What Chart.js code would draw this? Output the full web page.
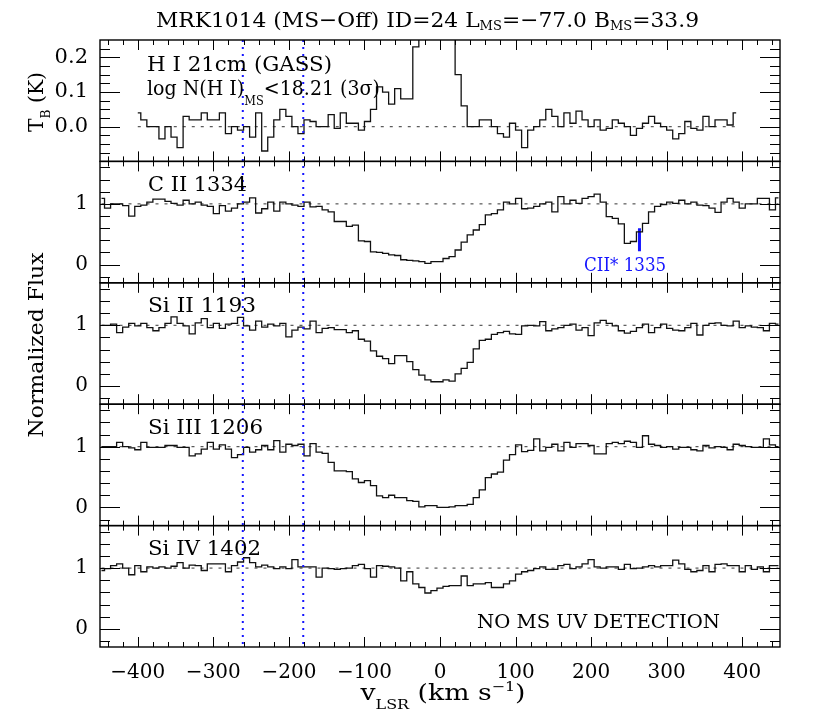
<!DOCTYPE html>
<html><head><meta charset="utf-8">
<script src="https://cdn.jsdelivr.net/npm/chart.js@4.4.1/dist/chart.umd.min.js"></script>
<style>html,body{margin:0;padding:0;background:#fff}#wrap{position:relative;width:830px;height:727px}</style>
</head><body><div id="wrap"><canvas id="c"></canvas></div>
<script>
// ---------------- data ----------------
const velHI = [-400,-392,-384,-376,-368,-360,-352,-344,-336,-328,-320,-312,-304,-296,-288,-280,-272,-264,-256,-248,-240,-232,-224,-216,-208,-200,-192,-184,-176,-168,-160,-152,-144,-136,-128,-120,-112,-104,-96,-88,-80,-72,-64,-56,-48,-40,-32,-24,-16,-8,0,8,16,24,32,40,48,56,64,72,80,88,96,104,112,120,128,136,144,152,160,168,176,184,192,200,208,216,224,232,240,248,256,264,272,280,288,296,304,312,320,328,336,344,352,360,368,376,384,392];
const tbHI = [
 0.04, 0.02, 0.0, 0.0, -0.035, 0.0, -0.03, -0.06,
 0.03, 0.02, 0.02, 0.04, 0.02, 0.02, 0.04, -0.02,
 0.0, -0.01, 0.0, -0.03, 0.04, -0.07, -0.03, 0.02,
 0.05, 0.03, 0.0, -0.02, 0.02, 0.015, 0.0, 0.0,
 0.035, -0.005, 0.04, 0.01, 0.01, -0.01, 0.015, 0.05,
 0.115, 0.1, 0.065, 0.11, 0.08, 0.08, 0.23, 0.7,
 1.3, 1.8, 1.9, 1.5, 0.8, 0.15, 0.06, 0.0,
 0.0, 0.02, 0.02, 0.0, -0.02, -0.03, 0.01, -0.01,
 -0.06, -0.01, 0.0, 0.02, 0.05, 0.03, 0.0, 0.04,
 0.01, 0.045, 0.02, 0.0, 0.02, -0.01, -0.005, 0.02,
 0.01, 0.0, -0.025, -0.005, 0.01, 0.03, 0.01, 0.0,
 -0.01, -0.035, -0.02, 0.015, -0.005, -0.01, 0.03, 0.0,
 0.02, 0.02, 0.005, 0.04];

const velUV = [-448,-440,-432,-424,-416,-408,-400,-392,-384,-376,-368,-360,-352,-344,-336,-328,-320,-312,-304,-296,-288,-280,-272,-264,-256,-248,-240,-232,-224,-216,-208,-200,-192,-184,-176,-168,-160,-152,-144,-136,-128,-120,-112,-104,-96,-88,-80,-72,-64,-56,-48,-40,-32,-24,-16,-8,0,8,16,24,32,40,48,56,64,72,80,88,96,104,112,120,128,136,144,152,160,168,176,184,192,200,208,216,224,232,240,248,256,264,272,280,288,296,304,312,320,328,336,344,352,360,368,376,384,392,400,408,416,424,432,440,448];
const fluxCII = [
 1.09, 0.93, 1.0, 1.0, 0.97, 0.8, 0.96, 0.98,
 1.03, 1.08, 1.08, 1.04, 1.01, 0.98, 1.06, 1.0,
 1.03, 0.98, 0.96, 0.84, 0.97, 0.88, 0.93, 1.0,
 1.03, 1.1, 0.85, 0.92, 1.03, 0.88, 1.03, 1.0,
 0.98, 0.96, 1.03, 0.95, 0.96, 0.9, 0.87, 0.71,
 0.71, 0.63, 0.65, 0.39, 0.38, 0.21, 0.2, 0.185,
 0.16, 0.15, 0.08, 0.07, 0.06, 0.05, 0.02, 0.05,
 0.05, 0.1, 0.13, 0.24, 0.37, 0.49, 0.57, 0.66,
 0.82, 0.84, 0.9, 1.03, 1.0, 1.09, 0.92, 0.93,
 0.96, 1.0, 1.03, 0.87, 1.12, 1.0, 1.06, 1.01,
 1.09, 1.12, 1.16, 1.03, 0.79, 0.76, 0.67, 0.35,
 0.38, 0.54, 0.68, 0.87, 0.96, 0.99, 1.03, 1.01,
 1.06, 1.0, 1.03, 0.98, 0.97, 0.93, 0.86, 1.03,
 1.09, 1.03, 0.93, 1.0, 1.0, 1.09, 1.09, 0.9,
 1.1];
const fluxSiII = [
 1.0, 1.0, 1.02, 0.88, 0.97, 1.03, 0.99, 1.03,
 0.96, 0.91, 0.96, 1.03, 1.14, 1.03, 0.99, 0.86,
 1.04, 1.11, 0.96, 1.03, 0.95, 1.02, 1.03, 1.13,
 0.99, 0.92, 1.07, 0.97, 1.02, 0.99, 1.03, 0.81,
 0.92, 0.97, 0.94, 1.07, 0.88, 0.95, 0.96, 0.93,
 0.93, 0.88, 0.91, 0.77, 0.74, 0.58, 0.49, 0.45,
 0.37, 0.5, 0.5, 0.4, 0.27, 0.18, 0.1, 0.07,
 0.07, 0.1, 0.08, 0.2, 0.29, 0.39, 0.61, 0.75,
 0.77, 0.85, 0.88, 0.9, 0.86, 0.85, 0.99, 1.0,
 0.99, 1.06, 0.91, 0.94, 0.96, 1.0, 1.02, 0.92,
 0.96, 0.83, 1.04, 1.08, 1.03, 0.99, 0.91, 0.87,
 0.9, 0.96, 1.02, 0.88, 0.96, 1.02, 0.95, 0.92,
 0.91, 0.96, 1.03, 0.84, 1.0, 1.03, 1.04, 1.0,
 0.99, 1.07, 0.96, 0.99, 0.97, 0.96, 0.91, 1.03,
 1.02];
const fluxSiIII = [
 1.0, 1.0, 1.0, 1.07, 1.0, 0.98, 0.95, 1.07,
 0.99, 0.99, 0.99, 1.02, 1.02, 0.99, 0.99, 0.85,
 0.88, 0.96, 1.07, 0.96, 1.03, 0.96, 0.82, 0.87,
 0.99, 0.91, 0.95, 1.02, 0.95, 1.1, 0.91, 1.04,
 1.02, 1.04, 0.85, 1.05, 0.91, 0.89, 0.74, 0.6,
 0.6, 0.59, 0.47, 0.41, 0.44, 0.36, 0.19, 0.16,
 0.2, 0.16, 0.16, 0.11, 0.1, 0.01, 0.03, 0.03,
 0.0, 0.0, 0.01, 0.03, 0.03, 0.05, 0.16, 0.29,
 0.49, 0.55, 0.58, 0.78, 0.87, 1.03, 0.92, 0.94,
 1.13, 0.93, 0.99, 1.04, 0.93, 1.07, 0.99, 1.05,
 1.05, 1.02, 0.88, 0.88, 1.05, 1.07, 1.05, 1.09,
 1.07, 0.99, 1.18, 1.04, 1.02, 0.99, 1.0, 0.96,
 0.99, 0.99, 0.95, 0.93, 1.02, 0.98, 1.0, 0.99,
 0.95, 1.04, 1.02, 1.0, 0.99, 0.99, 1.13, 1.03,
 1.0];
const fluxSiIV = [
 0.96, 0.99, 1.04, 1.07, 1.0, 0.89, 1.04, 0.94,
 1.02, 1.0, 1.02, 1.0, 1.03, 1.09, 1.0, 1.05,
 1.04, 0.96, 1.07, 1.07, 1.07, 0.94, 1.04, 1.1,
 1.17, 1.09, 1.02, 1.05, 1.02, 0.99, 1.02, 0.99,
 1.14, 1.02, 1.02, 1.02, 0.85, 1.0, 0.99, 0.98,
 0.99, 1.0, 1.04, 1.06, 0.99, 0.85, 1.04, 1.03,
 1.02, 1.0, 0.79, 0.94, 0.74, 0.68, 0.59, 0.63,
 0.67, 0.7, 0.71, 0.71, 0.87, 0.71, 0.74, 0.74,
 0.76, 0.68, 0.68, 0.74, 0.79, 0.9, 0.94, 0.96,
 0.99, 1.02, 0.98, 0.98, 1.04, 1.06, 0.99, 1.02,
 1.07, 1.14, 1.02, 1.0, 1.02, 1.02, 0.98, 1.06,
 0.99, 1.0, 1.02, 1.04, 1.02, 1.04, 1.04, 1.13,
 1.07, 0.98, 0.94, 0.96, 1.04, 0.94, 1.06, 1.07,
 1.04, 1.04, 0.94, 1.04, 0.98, 1.02, 0.94, 1.04,
 1.04];

const xTickValues = [-400, -300, -200, -100, 0, 100, 200, 300, 400];
const hiTickValues = [0, 0.1, 0.2];
const fluxTickValues = [0, 1];
const msVelocities = [-261, -181];
const ciiStarVel = [264, 264];
const ciiStarFlux = [0.22, 0.6];
const panelLabels = ['C II 1334', 'Si II 1193', 'Si III 1206', 'Si IV 1402'];

// ---------------- helpers ----------------
const FAM = '"DejaVu Serif"';
const pts = (xs, ys) => xs.map((v, i) => ({x: v, y: ys[i]}));
const fmtX = v => (v < 0 ? '\u2212' + Math.abs(v) : String(v));

function drawRich(ctx, parts, x, y, size, o = {}) {
  const items = parts.map(p => {
    const fs = p[1] ? size * 0.6 : size;
    ctx.font = fs + 'px ' + FAM;
    return {t: p[0], k: p[1], dy: p[2] || 0, fs, w: ctx.measureText(p[0]).width};
  });
  const nat = items.reduce((s, it) => s + it.w, 0);
  const sx = o.width ? o.width / nat : 1;
  ctx.save();
  ctx.translate(x, y);
  if (o.rotate) ctx.rotate(o.rotate);
  ctx.scale(sx, 1);
  let cx = o.align === 'center' ? -nat / 2 : 0;
  ctx.fillStyle = o.color || '#000';
  ctx.textBaseline = 'alphabetic';
  ctx.textAlign = 'left';
  for (const it of items) {
    ctx.font = it.fs + 'px ' + FAM;
    ctx.fillText(it.t, cx, it.dy);
    cx += it.w;
  }
  ctx.restore();
}

function line(ctx, x1, y1, x2, y2) {
  ctx.beginPath(); ctx.moveTo(x1, y1); ctx.lineTo(x2, y2); ctx.stroke();
}

const panelIds = ['yHI', 'yCII', 'ySiII', 'ySiIII', 'ySiIV'];

const framePlugin = {
  id: 'framePlugin',
  beforeDatasetDraw(chart, args) {
    const ys = args.meta.yScale, ca = chart.chartArea, ctx = chart.ctx;
    ctx.save();
    ctx.beginPath();
    ctx.rect(ca.left, ys.top, ca.right - ca.left, ys.bottom - ys.top);
    ctx.clip();
  },
  afterDatasetDraw(chart) { chart.ctx.restore(); },
  beforeDatasetsDraw(chart) {
    const ctx = chart.ctx, xs = chart.scales.x;
    ctx.save();
    ctx.strokeStyle = '#333';
    ctx.lineWidth = 1;
    ctx.setLineDash([3, 6]);
    const yh = chart.scales.yHI.getPixelForValue(0);
    line(ctx, xs.getPixelForValue(velHI[0]), yh, xs.getPixelForValue(velHI[velHI.length - 1]), yh);
    panelIds.slice(1).forEach(id => {
      const y = chart.scales[id].getPixelForValue(1);
      line(ctx, xs.getPixelForValue(velUV[0]), y, xs.getPixelForValue(velUV[velUV.length - 1]), y);
    });
    ctx.restore();
  },
  afterDatasetsDraw(chart) {
    const ctx = chart.ctx, ca = chart.chartArea, xs = chart.scales.x;
    ctx.save();
    // MS velocity range markers
    ctx.strokeStyle = '#1515ff';
    ctx.lineWidth = 2;
    ctx.setLineDash([2, 5]);
    msVelocities.forEach(v => {
      const px = xs.getPixelForValue(v);
      line(ctx, px, ca.top, px, ca.bottom);
    });
    ctx.setLineDash([]);
    // frames and ticks
    panelIds.forEach((id, i) => {
      const ys = chart.scales[id];
      ctx.strokeStyle = '#000';
      ctx.lineWidth = 1.4;
      ctx.strokeRect(ca.left, ys.top, ca.right - ca.left, ys.bottom - ys.top);
      ctx.lineWidth = 1;
      for (let v = -440; v <= 440; v += 20) {
        const px = Math.round(xs.getPixelForValue(v)) + 0.5;
        const L = v % 100 === 0 ? 10 : 5;
        line(ctx, px, ys.top, px, ys.top + L);
        line(ctx, px, ys.bottom, px, ys.bottom - L);
      }
      const step = i === 0 ? 0.025 : 0.2;
      const majors = i === 0 ? hiTickValues : fluxTickValues;
      const k0 = Math.ceil(ys.min / step - 1e-6), k1 = Math.floor(ys.max / step + 1e-6);
      for (let k = k0; k <= k1; k++) {
        const v = k * step;
        if (Math.abs(v - ys.min) < 1e-6 || Math.abs(v - ys.max) < 1e-6) continue;
        const py = Math.round(ys.getPixelForValue(v)) + 0.5;
        const L = majors.some(m => Math.abs(m - v) < 1e-6) ? 20 : 10;
        line(ctx, ca.left, py, ca.left + L, py);
        line(ctx, ca.right, py, ca.right - L, py);
      }
    });
    // texts
    const yHI = chart.scales.yHI;
    drawRich(ctx, [['MRK1014 (MS\u2212Off) ID=24 L', 0], ['MS', 1, 3], ['=\u221277.0 B', 0], ['MS', 1, 3], ['=33.9', 0]], 156, 27, 21, {width: 543});
    drawRich(ctx, [['H I 21cm (GASS)', 0]], 147, yHI.top + 31, 21, {width: 185});
    drawRich(ctx, [['log N(H I)', 0], ['MS', 1, 10], ['<18.21 (3\u03c3)', 0]], 147, yHI.top + 55, 21, {width: 233});
    panelIds.slice(1).forEach((id, i) => {
      const ys = chart.scales[id];
      const w = [99, 108, 115, 113][i];
      drawRich(ctx, [[panelLabels[i], 0]], 148, ys.top + 29.5, 20, {width: w});
    });
    const ySiIV = chart.scales.ySiIV;
    drawRich(ctx, [['NO MS UV DETECTION', 0]], 477, ySiIV.top + 102, 19, {width: 243});
    const yC = chart.scales.yCII;
    drawRich(ctx, [['CII* 1335', 0]], xs.getPixelForValue(245), yC.getPixelForValue(-0.1), 19, {width: 82, align: 'center', color: '#1515ff'});
    drawRich(ctx, [['v', 0], ['LSR', 1, 9], [' (km s', 0], ['\u22121', 1, -9], [')', 0]], 443, 700, 22, {width: 165, align: 'center'});
    drawRich(ctx, [['Normalized Flux', 0]], 43, 345, 21, {width: 185, align: 'center', rotate: -Math.PI / 2});
    drawRich(ctx, [['T', 0], ['B', 1, 7], [' (K)', 0]], 43, 102, 21, {width: 60, align: 'center', rotate: -Math.PI / 2});
    ctx.restore();
  }
};

// ---------------- chart ----------------
const stepLine = (data, yAxisID) => ({
  data, yAxisID, stepped: 'middle', borderColor: '#111', borderWidth: 1.3,
  pointRadius: 0, fill: false, tension: 0
});

const yStack = (weight, min, max, ticks, fmt, size) => ({
  type: 'linear', position: 'left', stack: 'panels', stackWeight: 1, weight,
  min, max,
  grid: {display: false, drawTicks: false},
  border: {display: false},
  afterBuildTicks: ax => { ax.ticks = ticks.map(v => ({value: v})); },
  afterFit: ax => { ax.width = 60; },
  ticks: {font: {family: 'DejaVu Serif', size}, color: '#000', padding: 12, callback: fmt}
});

new Chart(document.getElementById('c'), {
  type: 'line',
  data: {
    datasets: [
      stepLine(pts(velHI, tbHI), 'yHI'),
      stepLine(pts(velUV, fluxCII), 'yCII'),
      stepLine(pts(velUV, fluxSiII), 'ySiII'),
      stepLine(pts(velUV, fluxSiIII), 'ySiIII'),
      stepLine(pts(velUV, fluxSiIV), 'ySiIV'),
      {data: pts(ciiStarVel, ciiStarFlux), yAxisID: 'yCII', borderColor: '#1515ff', borderWidth: 3, pointRadius: 0, fill: false}
    ]
  },
  options: {
    responsive: true, maintainAspectRatio: false, animation: false,
    events: [],
    layout: {padding: {left: 40, right: 50, top: 40, bottom: 30}},
    plugins: {legend: {display: false}, tooltip: {enabled: false}, title: {display: false}},
    scales: {
      x: {
        type: 'linear', position: 'bottom', min: -450, max: 450,
        grid: {display: false, drawTicks: false}, border: {display: false},
        afterBuildTicks: ax => { ax.ticks = xTickValues.map(v => ({value: v})); },
        afterFit: ax => { ax.height = 50; },
        ticks: {font: {family: 'DejaVu Serif', size: 20}, color: '#000', padding: 14, maxRotation: 0, autoSkip: false, callback: v => fmtX(v)}
      },
      ySiIV: yStack(1, -0.3, 1.7, fluxTickValues, v => String(v), 20),
      ySiIII: yStack(2, -0.3, 1.7, fluxTickValues, v => String(v), 20),
      ySiII: yStack(3, -0.3, 1.7, fluxTickValues, v => String(v), 20),
      yCII: yStack(4, -0.3, 1.7, fluxTickValues, v => String(v), 20),
      yHI: yStack(5, -0.1, 0.25, hiTickValues, v => v.toFixed(1), 21)
    }
  },
  plugins: [framePlugin]
});
</script>
</body></html>
